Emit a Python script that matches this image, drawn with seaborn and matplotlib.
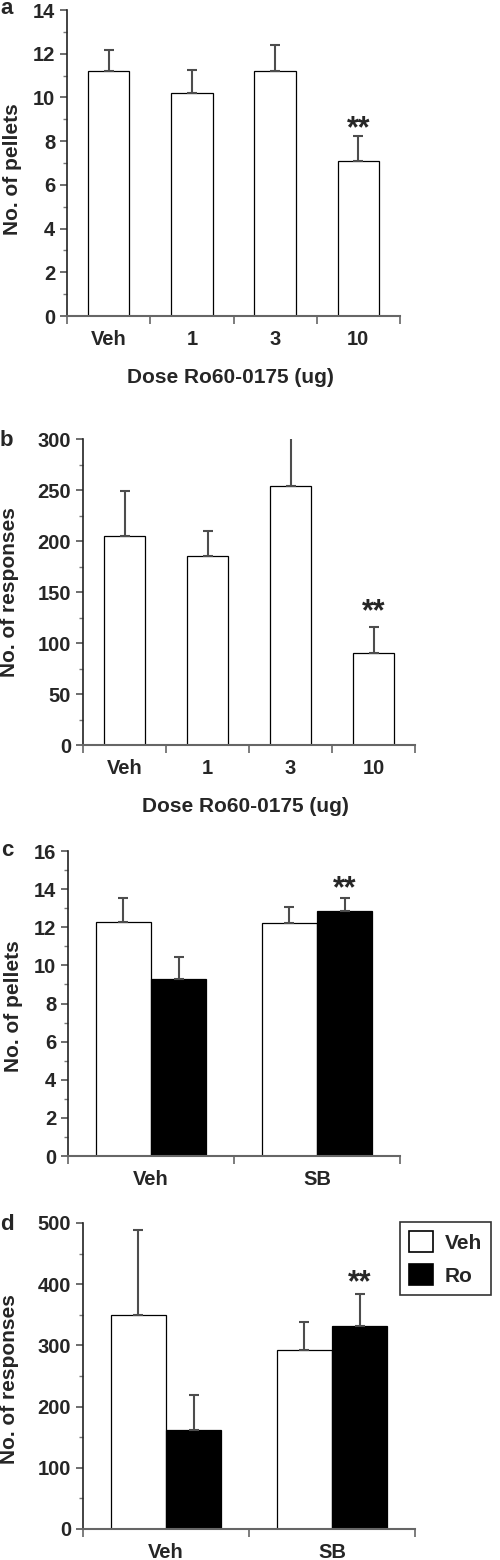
import matplotlib
matplotlib.use("Agg")
import matplotlib.pyplot as plt
import matplotlib.ticker as mticker
from matplotlib.patches import Patch
import seaborn as sns
import pandas as pd

# panels a and b: dose response to Ro60-0175
doses = ["Veh", "1", "3", "10"]
pellets_a = [11.2, 10.2, 11.2, 7.1]
pellets_a_err = [0.95, 1.05, 1.2, 1.15]
responses_b = [205, 185, 254, 90]
responses_b_err = [44, 25, 48, 26]

# panels c and d: pretreatment (Veh / SB) x treatment (Veh / Ro)
pretreat = ["Veh", "SB"]
treatments = ["Veh", "Ro"]
pellets_c_veh = [12.3, 12.2]
pellets_c_veh_err = [1.25, 0.85]
pellets_c_ro = [9.3, 12.85]
pellets_c_ro_err = [1.15, 0.7]
responses_d_veh = [350, 292]
responses_d_veh_err = [138, 47]
responses_d_ro = [162, 332]
responses_d_ro_err = [57, 52]

sns.set_style("ticks")
plt.rcParams["font.family"] = ["Liberation Sans", "DejaVu Sans"]
plt.rcParams["font.weight"] = "bold"

W, H = 500, 1560
fig = plt.figure(figsize=(W / 100, H / 100), dpi=100)


def add_ax(left, top, right, bottom):
    # axes box given in pixels of the output image
    return fig.add_axes([left / W, 1 - bottom / H, (right - left) / W, (bottom - top) / H])


def add_errors(ax, errs):
    xs = [p.get_x() + p.get_width() / 2 for p in ax.patches]
    hs = [p.get_height() for p in ax.patches]
    ax.errorbar(xs, hs, yerr=[[0] * len(errs), errs], fmt="none", ecolor="#4d4d4d",
                elinewidth=1.5, capsize=3.6, capthick=1.5, zorder=1)


def style_ax(ax, labels, ymax, major, minor, ylabel, ylab_x, ylab_y=0.49, xlabel=None):
    n = len(labels)
    ax.set_xlim(-0.5, n - 0.5)
    ax.set_ylim(0, ymax)
    ax.set_xticks(range(n))
    ax.set_xticklabels(labels, fontsize=14.5, fontweight="bold")
    ax.set_xticks([i - 0.5 for i in range(n + 1)], minor=True)
    ax.tick_params(axis="x", which="major", length=0, pad=10)
    ax.tick_params(axis="x", which="minor", length=6, width=1.2, color="#666666")
    ax.yaxis.set_major_locator(mticker.MultipleLocator(major))
    ax.yaxis.set_minor_locator(mticker.MultipleLocator(minor))
    ax.tick_params(axis="y", which="major", length=5, width=1.2, color="#555555", pad=3.5, labelsize=14.5)
    ax.tick_params(axis="y", which="minor", length=3, width=1.0, color="#777777")
    for t in ax.get_yticklabels():
        t.set_fontweight("bold")
    sns.despine(ax=ax)
    ax.spines["left"].set_color("#222222")
    ax.spines["left"].set_linewidth(1.2)
    ax.spines["bottom"].set_color("#666666")
    ax.spines["bottom"].set_linewidth(1.5)
    ax.set_ylabel(ylabel, fontsize=15, fontweight="bold", va="center")
    ax.yaxis.set_label_coords(ylab_x, ylab_y)
    if xlabel:
        ax.set_xlabel(xlabel, fontsize=15, fontweight="bold", va="center")
        ax.xaxis.set_label_coords(0.49, -0.2)
    else:
        ax.set_xlabel("")
    return ax


def stars(ax, x, y):
    ax.text(x, y, "**", ha="center", va="baseline", fontsize=22, fontweight="bold")


def letter(x, y, s):
    fig.text(x / W, 1 - y / H, s, fontsize=16, fontweight="bold", ha="left", va="center")


# ---- a ----
ax_a = add_ax(67, 10, 400, 316)
sns.barplot(x=doses, y=pellets_a, color="white", edgecolor="black", linewidth=0.9,
            width=0.5, saturation=1, errorbar=None, ax=ax_a)
add_errors(ax_a, pellets_a_err)
style_ax(ax_a, doses, 14, 2, 1, "No. of pellets", -0.165, 0.48, "Dose Ro60-0175 (ug)")
stars(ax_a, 3, 8.2)
letter(0, 8, "a")

# ---- b ----
ax_b = add_ax(83, 439, 415, 745)
sns.barplot(x=doses, y=responses_b, color="white", edgecolor="black", linewidth=0.9,
            width=0.5, saturation=1, errorbar=None, ax=ax_b)
add_errors(ax_b, responses_b_err)
style_ax(ax_b, doses, 300, 50, 25, "No. of responses", -0.22, 0.5, "Dose Ro60-0175 (ug)")
stars(ax_b, 3, 122)
letter(0, 441, "b")

# ---- c ----
df_c = pd.DataFrame({"group": pretreat * 2,
                     "treatment": [treatments[0]] * 2 + [treatments[1]] * 2,
                     "value": pellets_c_veh + pellets_c_ro})
ax_c = add_ax(68, 851, 400, 1156)
sns.barplot(data=df_c, x="group", y="value", hue="treatment", hue_order=treatments,
            palette={"Veh": "white", "Ro": "black"}, edgecolor="black", linewidth=0.9,
            width=0.667, saturation=1, errorbar=None, legend=False, ax=ax_c)
add_errors(ax_c, pellets_c_veh_err + pellets_c_ro_err)
style_ax(ax_c, pretreat, 16, 2, 1, "No. of pellets", -0.165, 0.49)
p = ax_c.patches[-1]
stars(ax_c, p.get_x() + p.get_width() / 2, 13.55)
letter(1, 851, "c")

# ---- d ----
df_d = pd.DataFrame({"group": pretreat * 2,
                     "treatment": [treatments[0]] * 2 + [treatments[1]] * 2,
                     "value": responses_d_veh + responses_d_ro})
ax_d = add_ax(83, 1223, 415, 1529)
sns.barplot(data=df_d, x="group", y="value", hue="treatment", hue_order=treatments,
            palette={"Veh": "white", "Ro": "black"}, edgecolor="black", linewidth=0.9,
            width=0.667, saturation=1, errorbar=None, legend=False, ax=ax_d)
add_errors(ax_d, responses_d_veh_err + responses_d_ro_err)
style_ax(ax_d, pretreat, 500, 100, 50, "No. of responses", -0.22, 0.49)
p = ax_d.patches[-1]
stars(ax_d, p.get_x() + p.get_width() / 2, 389)
letter(0, 1224, "d")

handles = [Patch(facecolor="white", edgecolor="black", linewidth=1.2, label="Veh"),
           Patch(facecolor="black", edgecolor="black", linewidth=1.2, label="Ro")]
leg = fig.legend(handles=handles, loc="upper left", bbox_to_anchor=(400 / W, 1 - 1222 / H),
                 frameon=True, fancybox=False, edgecolor="black", fontsize=15,
                 handlelength=1.15, handleheight=1.15, handletextpad=0.55,
                 labelspacing=0.55, borderpad=0.45, borderaxespad=0)
leg.get_frame().set_linewidth(1.2)
for t in leg.get_texts():
    t.set_fontweight("bold")

fig.savefig("out.png", dpi=100, facecolor="white")
